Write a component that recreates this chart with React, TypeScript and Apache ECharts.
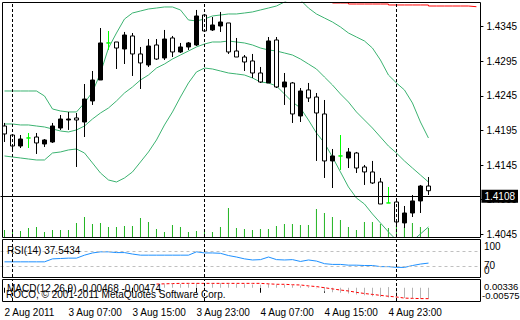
import React, { useEffect, useRef } from "react";
import * as echarts from "echarts";

const FONT = "'Liberation Sans', Arial, sans-serif";
const SLOTS = 60;

const tickLabels = ["2 Aug 2011", "3 Aug 07:00", "3 Aug 15:00", "3 Aug 23:00", "4 Aug 07:00", "4 Aug 15:00", "4 Aug 23:00"];
const priceTicks = [1.4045, 1.4095, 1.4145, 1.4195, 1.4245, 1.4295, 1.4345];
const daySeparators = [1, 25, 49];
const lastPrice = 1.4108;

const opens = [1.42015, 1.41885, 1.41726, 1.41842, 1.41856, 1.41755, 1.41784, 1.41986, 1.42102, 1.42131,
  1.42073, 1.42377, 1.4268, 1.43215, 1.43229, 1.43128, 1.43316, 1.43056, 1.42897, 1.43186,
  1.42998, 1.43287, 1.43085, 1.43157, 1.43186, 1.43619, 1.43403, 1.4346, 1.43504, 1.43099,
  1.43012, 1.42955, 1.42781, 1.42637, 1.43258, 1.42579, 1.42637, 1.4216, 1.42536, 1.42434,
  1.42189, 1.4151, 1.41582, 1.41553, 1.41625, 1.41423, 1.41351, 1.41206, 1.40903, 1.40917,
  1.40614, 1.40758, 1.40932, 1.41148];
const closes = [1.419, 1.41726, 1.41827, 1.41842, 1.4177, 1.41813, 1.42015, 1.42116, 1.42116, 1.42102,
  1.42405, 1.4268, 1.43215, 1.43215, 1.43142, 1.4333, 1.43056, 1.42926, 1.43171, 1.42983,
  1.43272, 1.43085, 1.43157, 1.43215, 1.43605, 1.43388, 1.43475, 1.43518, 1.43085, 1.43012,
  1.4294, 1.42781, 1.42651, 1.43244, 1.42579, 1.42651, 1.42189, 1.42521, 1.4242, 1.42203,
  1.4151, 1.41582, 1.41582, 1.4164, 1.41408, 1.41351, 1.41192, 1.40888, 1.40903, 1.40628,
  1.40758, 1.40932, 1.41148, 1.4108];
const lows = [1.41784, 1.41669, 1.41697, 1.41697, 1.41611, 1.41712, 1.4177, 1.41958, 1.41958, 1.41423,
  1.41856, 1.42319, 1.4268, 1.43114, 1.42839, 1.42911, 1.42738, 1.4255, 1.42868, 1.42969,
  1.42969, 1.43012, 1.4307, 1.43114, 1.43171, 1.43374, 1.43388, 1.43374, 1.43056, 1.43012,
  1.4281, 1.42709, 1.42637, 1.42637, 1.42564, 1.42319, 1.42059, 1.42073, 1.42362, 1.4151,
  1.41264, 1.41119, 1.4138, 1.41408, 1.41336, 1.41163, 1.41177, 1.40888, 1.40903, 1.40556,
  1.40541, 1.407, 1.40758, 1.41018];
const highs = [1.42059, 1.41885, 1.41885, 1.41914, 1.41914, 1.41827, 1.42059, 1.42174, 1.42218, 1.42203,
  1.42622, 1.4281, 1.43431, 1.43388, 1.43229, 1.43374, 1.43359, 1.43157, 1.43272, 1.43272,
  1.43403, 1.43316, 1.43215, 1.43229, 1.43692, 1.43634, 1.4359, 1.43663, 1.43504, 1.43287,
  1.43041, 1.43056, 1.42868, 1.43301, 1.43301, 1.42781, 1.42651, 1.42564, 1.42637, 1.42492,
  1.42391, 1.41683, 1.41885, 1.41697, 1.4164, 1.41452, 1.4151, 1.41264, 1.41134, 1.40975,
  1.40859, 1.41018, 1.41163, 1.41278];

const bbUpper = [1.42521, 1.42521, 1.42521, 1.42521, 1.42521, 1.42449, 1.42261, 1.42232, 1.42218, 1.42218,
  1.42348, 1.42507, 1.42781, 1.43142, 1.43359, 1.43561, 1.43648, 1.43677, 1.43706, 1.4372,
  1.43735, 1.43735, 1.43692, 1.43547, 1.43533, 1.43561, 1.43605, 1.43619, 1.43634, 1.43634,
  1.43648, 1.43663, 1.43692, 1.4372, 1.43749, 1.43807, 1.43879, 1.43836, 1.4372, 1.43634,
  1.43576, 1.43518, 1.43446, 1.43359, 1.43301, 1.43244, 1.43142, 1.42969, 1.42752, 1.42637,
  1.42536, 1.42348, 1.42073, 1.41842];
const bbMiddle = [1.42044, 1.42044, 1.4203, 1.4203, 1.42015, 1.42001, 1.41972, 1.41943, 1.41929, 1.41958,
  1.42015, 1.42116, 1.42203, 1.42275, 1.42377, 1.42492, 1.42579, 1.4268, 1.42752, 1.42853,
  1.42911, 1.42983, 1.43041, 1.43099, 1.43157, 1.432, 1.43229, 1.43229, 1.43244, 1.43229,
  1.43215, 1.43186, 1.43142, 1.43114, 1.43099, 1.4307, 1.43041, 1.42983, 1.42911, 1.42839,
  1.42723, 1.42608, 1.42478, 1.42362, 1.42218, 1.42102, 1.41986, 1.41856, 1.41726, 1.41625,
  1.4151, 1.41408, 1.41307, 1.41206];
const bbLower = [1.41582, 1.41567, 1.41553, 1.41538, 1.41524, 1.41524, 1.41625, 1.4164, 1.41669, 1.41683,
  1.41625, 1.41481, 1.41336, 1.41235, 1.41206, 1.41264, 1.41351, 1.41495, 1.4164, 1.41813,
  1.4203, 1.42218, 1.42434, 1.42637, 1.42796, 1.42853, 1.42839, 1.4281, 1.42781, 1.42767,
  1.42752, 1.42709, 1.42651, 1.42637, 1.42593, 1.42478, 1.42362, 1.42275, 1.42102, 1.41914,
  1.4177, 1.41567, 1.41351, 1.41134, 1.40975, 1.40888, 1.40744, 1.40614, 1.40484, 1.40368,
  1.40296, 1.40354, 1.40455, 1.40556];

const redLine = [null, null, null, null, null, null, null, null, null, null,
  null, null, null, null, null, null, null, null, null, null,
  null, null, null, null, null, null, null, null, null, null,
  null, null, null, null, null, null, null, null, null, null,
  null, 1.43793, 1.43793, 1.43778, 1.43778, 1.43778, 1.43778, 1.43778, 1.43764, 1.43764,
  1.43764, 1.43764, 1.43764, 1.43749, 1.43749, 1.43749, 1.43749, 1.43749, 1.43739, 1.43739];

const volumes = [700, 700, 600, 900, 1000, 500, 700, 700, 700, 1400,
  2000, 1300, 1400, 1000, 1000, 1100, 1100, 1900, 1500, 800,
  500, 1200, 1000, 500, 600, 800, 500, 1000, 2900, 900,
  800, 700, 800, 800, 1100, 1300, 1300, 1200, 1200, 2800,
  2400, 2000, 1700, 1000, 700, 1500, 1500, 1300, 900, 1200,
  1000, 1400, 1000, 900];

const rsi = [41, 41, 41, 41, 41, 41, 49, 50, 51, 51,
  59, 65, 68, 68, 66, 66, 62, 59, 59, 59,
  59, 59, 59, 59, 68, 65, 65, 64, 58, 54,
  49, 46, 47, 54, 47, 46, 47, 42, 46, 43,
  36, 34, 34, 32, 32, 31, 31, 28, 28, 26,
  26, 31, 35, 37.5434];

const macdMain = [null, null, null, null, null, null, null, null, null, null,
  null, null, null, null, null, null, null, null, null, null,
  0.0015, 0.0016, 0.0016, 0.0017, 0.0019, 0.0019, 0.002, 0.002, 0.0018, 0.0016,
  0.0015, 0.0014, 0.0013, 0.0016, 0.0013, 0.0012, 0.0011, 0.0009, 0.0004, -0.0002,
  -0.0016, -0.0019, -0.0022, -0.0025, -0.0029, -0.0033, -0.0037, -0.004, -0.0042, -0.0044,
  -0.0045, -0.0046, -0.0047, -0.00468];
const macdSignal = [null, null, null, null, null, null, null, null, null, null,
  null, null, null, null, null, null, null, null, null, 0.0016,
  0.0017, 0.0018, 0.0019, 0.0019, 0.0019, 0.0019, 0.0019, 0.0019, 0.0019, 0.0019,
  0.0019, 0.0019, 0.0019, 0.0017, 0.0015, 0.0015, 0.0013, 0.0012, 0.0008, 0.0005,
  0.0, -0.0005, -0.001, -0.0014, -0.002, -0.0025, -0.0029, -0.0033, -0.0037, -0.004,
  -0.0045, -0.0046, -0.0047, -0.00474];

export default function App() {
  const ref = useRef<HTMLDivElement>(null);
  useEffect(() => {
    if (!ref.current) return;
    const chart = echarts.init(ref.current, null, { renderer: "svg" });
    const cats = Array.from({ length: SLOTS }, (_, i) =>
      i % 8 === 0 && i / 8 < tickLabels.length ? tickLabels[i / 8] : "h" + i
    );
    const showTick = (i: number) => i % 8 === 0 && i / 8 < tickLabels.length;
    const candles = opens.map((o, i) => [o, closes[i], lows[i], highs[i]]);
    const sepStyle = { color: "#000", width: 1, type: [3, 2] };
    const sepLines = daySeparators.map((i) => ({ xAxis: cats[i], lineStyle: sepStyle }));
    const bandStyle = { color: "#3CB371", width: 1 };
    const txt = (x: number, y: number, text: string, extra: any = {}) => ({
      type: "text",
      x,
      y,
      silent: true,
      z: 10,
      style: { text, font: `10px ${FONT}`, fill: "#000", verticalAlign: "middle", ...extra },
    });
    const frame = (y: number, h: number) => ({
      type: "rect",
      silent: true,
      z: 9,
      shape: { x: 2.5, y, width: 478, height: h },
      style: { fill: "none", stroke: "#000", lineWidth: 1 },
    });

    const option: any = {
      animation: false,
      backgroundColor: "#fff",
      textStyle: { fontFamily: FONT },
      grid: [
        { left: 0.5, width: 480, top: 2, height: 235 },
        { left: 0.5, width: 480, top: 240, height: 37 },
        { left: 0.5, width: 480, top: 280, height: 21 },
      ],
      xAxis: [
        { type: "category", gridIndex: 0, data: cats, show: false },
        { type: "category", gridIndex: 1, data: cats, show: false },
        {
          type: "category",
          gridIndex: 2,
          data: cats,
          axisLine: { show: false },
          splitLine: { show: false },
          axisTick: { show: true, interval: (i: number) => showTick(i), alignWithLabel: true, length: 5, lineStyle: { color: "#000" } },
          axisLabel: {
            interval: (i: number) => showTick(i),
            align: "left",
            margin: 6,
            fontSize: 10,
            color: "#000",
            fontFamily: FONT,
          },
        },
      ],
      yAxis: [
        {
          type: "value",
          gridIndex: 0,
          position: "right",
          min: 1.40411,
          max: 1.43807,
          axisLine: { show: false },
          splitLine: { show: false },
          axisTick: { show: true, customValues: priceTicks, length: 3, lineStyle: { color: "#000" } },
          axisLabel: {
            customValues: priceTicks,
            formatter: (v: number) => v.toFixed(4),
            margin: 6,
            fontSize: 10,
            color: "#000",
            fontFamily: FONT,
          },
        },
        { type: "value", gridIndex: 0, min: 0, max: 23500, show: false },
        { type: "value", gridIndex: 1, min: 0, max: 100, show: false },
        { type: "value", gridIndex: 2, min: -0.00575, max: 0.00336, show: false },
      ],
      series: [
        {
          type: "bar",
          name: "Volume",
          xAxisIndex: 0,
          yAxisIndex: 1,
          data: volumes,
          barWidth: 1,
          itemStyle: { color: "#22B422" },
          silent: true,
          z: 1,
          markLine: { silent: true, symbol: ["none", "none"], label: { show: false }, data: sepLines },
        },
        { type: "line", name: "BB upper", xAxisIndex: 0, yAxisIndex: 0, data: bbUpper, symbol: "none", lineStyle: bandStyle, z: 2 },
        { type: "line", name: "BB middle", xAxisIndex: 0, yAxisIndex: 0, data: bbMiddle, symbol: "none", lineStyle: bandStyle, z: 2 },
        { type: "line", name: "BB lower", xAxisIndex: 0, yAxisIndex: 0, data: bbLower, symbol: "none", lineStyle: bandStyle, z: 2 },
        { type: "line", name: "MA", xAxisIndex: 0, yAxisIndex: 0, data: redLine, symbol: "none", step: "end", lineStyle: { color: "#FF0000", width: 1 }, z: 2 },
        {
          type: "candlestick",
          name: "EURUSD",
          xAxisIndex: 0,
          yAxisIndex: 0,
          data: candles,
          barWidth: 5,
          z: 3,
          itemStyle: {
            color: "#000",
            color0: "#fff",
            borderColor: "#000",
            borderColor0: "#000",
            borderColorDoji: "#00FF00",
            borderWidth: 1,
          },
          markLine: {
            silent: true,
            symbol: ["none", "none"],
            lineStyle: { color: "#000", width: 1, type: "solid" },
            label: {
              show: true,
              position: "end",
              distance: 1,
              formatter: () => lastPrice.toFixed(4),
              color: "#fff",
              backgroundColor: "#000",
              padding: [2, 3, 1, 3],
              fontSize: 10,
              fontFamily: FONT,
            },
            data: [{ yAxis: lastPrice }],
          },
        },
        {
          type: "line",
          name: "RSI(14)",
          xAxisIndex: 1,
          yAxisIndex: 2,
          data: rsi,
          symbol: "none",
          lineStyle: { color: "#1E90FF", width: 1 },
          z: 3,
          markLine: {
            silent: true,
            symbol: ["none", "none"],
            label: { show: false },
            data: [
              { yAxis: 70, lineStyle: { color: "#C0C0C0", width: 1, type: [3, 3] } },
              { yAxis: 30, lineStyle: { color: "#C0C0C0", width: 1, type: [3, 3] } },
              ...sepLines,
            ],
          },
        },
        {
          type: "bar",
          name: "MACD",
          xAxisIndex: 2,
          yAxisIndex: 3,
          data: macdMain,
          barWidth: 1,
          itemStyle: { color: "#B4B4B4" },
          z: 2,
          markLine: { silent: true, symbol: ["none", "none"], label: { show: false }, data: sepLines },
        },
        {
          type: "line",
          name: "Signal",
          xAxisIndex: 2,
          yAxisIndex: 3,
          data: macdSignal,
          symbol: "none",
          lineStyle: { color: "#FF0000", width: 1, type: [3, 2] },
          z: 3,
        },
      ],
      graphic: [
        frame(2.5, 235),
        frame(239.5, 38),
        frame(279.5, 22),
        txt(7, 250, "RSI(14) 37.5434"),
        txt(7, 288, "MACD(12,26,9) -0.00468 -0.00474"),
        txt(6, 294.5, "ROCO, © 2001-2011 MetaQuotes Software Corp."),
        txt(484, 246.5, "100"),
        txt(484, 265.5, "70"),
        txt(484, 270.5, "0"),
        txt(484, 286.5, "0.00336", { font: `9.5px ${FONT}` }),
        txt(482, 295.5, "-0.00575", { font: `9.5px ${FONT}` }),
      ],
    };
    chart.setOption(option);
    return () => chart.dispose();
  }, []);
  return <div ref={ref} style={{ position: "fixed", left: 0, top: 0, width: 520, height: 320 }} />;
}
